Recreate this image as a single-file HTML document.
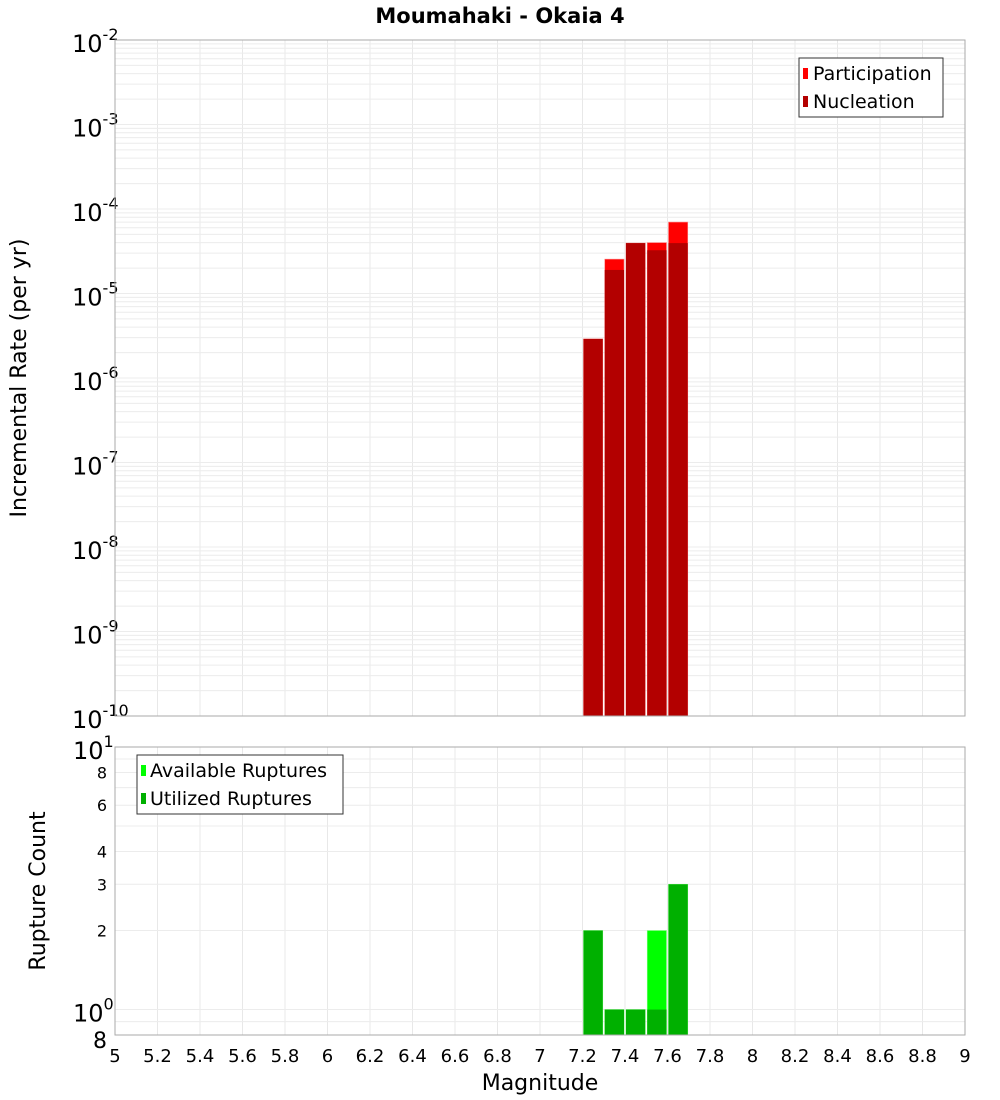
<!DOCTYPE html>
<html><head><meta charset="utf-8"><style>
body{margin:0;background:#fff;}
svg{display:block;font-family:"DejaVu Sans","Liberation Sans",sans-serif;}
</style></head><body>
<svg id="chart" width="1000" height="1100" xmlns="http://www.w3.org/2000/svg">
<text x="500" y="23" text-anchor="middle" font-size="21" font-weight="bold">Moumahaki - Okaia 4</text>
<g id="gtop"></g>
<g id="gbot"></g>
<text transform="translate(26,378) rotate(-90)" text-anchor="middle" font-size="22">Incremental Rate (per yr)</text>
<text transform="translate(45,891) rotate(-90)" text-anchor="middle" font-size="22">Rupture Count</text>
<text x="540" y="1090" text-anchor="middle" font-size="22">Magnitude</text>
<g>
<rect x="799" y="58" width="144" height="59" fill="#fff" stroke="#333" stroke-width="1"/>
<rect x="803" y="68" width="5" height="11" fill="#ff0000"/>
<text x="813" y="80" font-size="19">Participation</text>
<rect x="803" y="96" width="5" height="11" fill="#b30000"/>
<text x="813" y="108" font-size="19">Nucleation</text>
</g>
<g>
<rect x="137" y="755" width="206" height="59" fill="#fff" stroke="#333" stroke-width="1"/>
<rect x="141" y="765" width="5" height="11" fill="#00ff00"/>
<text x="150" y="777" font-size="19">Available Ruptures</text>
<rect x="141" y="793" width="5" height="11" fill="#00b000"/>
<text x="150" y="805" font-size="19">Utilized Ruptures</text>
</g>
</svg>
<script>
const mags=[7.25,7.35,7.45,7.55,7.65];
const participation=[2.9e-6,2.55e-5,3.95e-5,4.0e-5,7.0e-5];
const nucleation=[2.9e-6,1.9e-5,3.95e-5,3.25e-5,3.95e-5];
const available=[2,1,1,2,3];
const utilized=[2,1,1,1,3];
const xTicks=[5,5.2,5.4,5.6,5.8,6,6.2,6.4,6.6,6.8,7,7.2,7.4,7.6,7.8,8,8.2,8.4,8.6,8.8,9];
const rateExps=[-2,-3,-4,-5,-6,-7,-8,-9,-10];
const countTicks=[8,6,4,3,2];

const NS="http://www.w3.org/2000/svg";
const X0=115,X1=965;
const x=m=>X0+(m-5)/4*(X1-X0);
const T0=40,T1=716;
const yR=v=>T0+(-2-Math.log10(v))/8*(T1-T0);
const B0=747,B1=1035,lmin=Math.log10(0.8);
const yC=v=>B0+(1-Math.log10(v))/(1-lmin)*(B1-B0);
function el(p,tag,a,txt){const e=document.createElementNS(NS,tag);for(const k in a)e.setAttribute(k,a[k]);if(txt!==undefined)e.textContent=txt;p.appendChild(e);return e;}
const gTop=document.getElementById('gtop'),gBot=document.getElementById('gbot');
for(const t of xTicks){
 const g1=el(gTop,'line',{x1:x(t),x2:x(t),y1:T0,y2:T1,stroke:'#e8e8e8'});
 
 
 const g2=el(gBot,'line',{x1:x(t),x2:x(t),y1:B0,y2:B1,stroke:'#e8e8e8'});
 
 
 const lb=el(gBot,'text',{x:x(t),y:1062,'text-anchor':'middle','font-size':18},String(t));
 
 
}
for(let e=-10;e<-2;e++){for(let k=1;k<10;k++){const y=yR(k*Math.pow(10,e));
 const l=el(gTop,'line',{x1:X0,x2:X1,y1:y,y2:y,stroke:'#ececec'});
 
 }}
for(const ex of rateExps){const y=yR(Math.pow(10,ex));
 const t=el(gTop,'text',{x:72,y:y+12,'font-size':24});
 
 
 t.textContent='10';el(t,'tspan',{dy:-12,'font-size':16},String(ex));}
for(const v of [0.8,0.9,1,2,3,4,5,6,7,8,9,10]){const y=yC(v);
 const l=el(gBot,'line',{x1:X0,x2:X1,y1:y,y2:y,stroke:'#ececec'});
 
 }
for(const v of countTicks){const lb=el(gBot,'text',{x:107,y:yC(v)+6,'text-anchor':'end','font-size':16},String(v));
 
 }
{const a=el(gBot,'text',{x:73,y:yC(10)+12,'font-size':24});a.textContent='10';el(a,'tspan',{dy:-12,'font-size':16},'1');
 const b=el(gBot,'text',{x:73,y:yC(1)+12,'font-size':24});b.textContent='10';el(b,'tspan',{dy:-12,'font-size':16},'0');
 const c=el(gBot,'text',{x:107,y:B1+13,'text-anchor':'end','font-size':22},'8');}
mags.forEach((m,i)=>{
 const xl=x(m-0.05)+1,w=x(m+0.05)-x(m-0.05)-2;
 const p=el(gTop,'rect',{x:xl,y:yR(participation[i]),width:w,height:T1-yR(participation[i]),fill:'#ff0000',stroke:'#ff8080','stroke-width':0.6});
 
 
 const n=el(gTop,'rect',{x:xl,y:yR(nucleation[i]),width:w,height:T1-yR(nucleation[i]),fill:'#b30000'});
 
 
 const a=el(gBot,'rect',{x:xl,y:yC(available[i]),width:w,height:B1-yC(available[i]),fill:'#00ff00',stroke:'#80ff80','stroke-width':0.6});
 
 
 const u=el(gBot,'rect',{x:xl,y:yC(utilized[i]),width:w,height:B1-yC(utilized[i]),fill:'#00b000'});
 
 
});
{const f1=el(gTop,'rect',{x:X0,y:T0,width:X1-X0,height:T1-T0,fill:'none',stroke:'#aaa'});
 const f2=el(gBot,'rect',{x:X0,y:B0,width:X1-X0,height:B1-B0,fill:'none',stroke:'#aaa'});}
</script>
</body></html>
